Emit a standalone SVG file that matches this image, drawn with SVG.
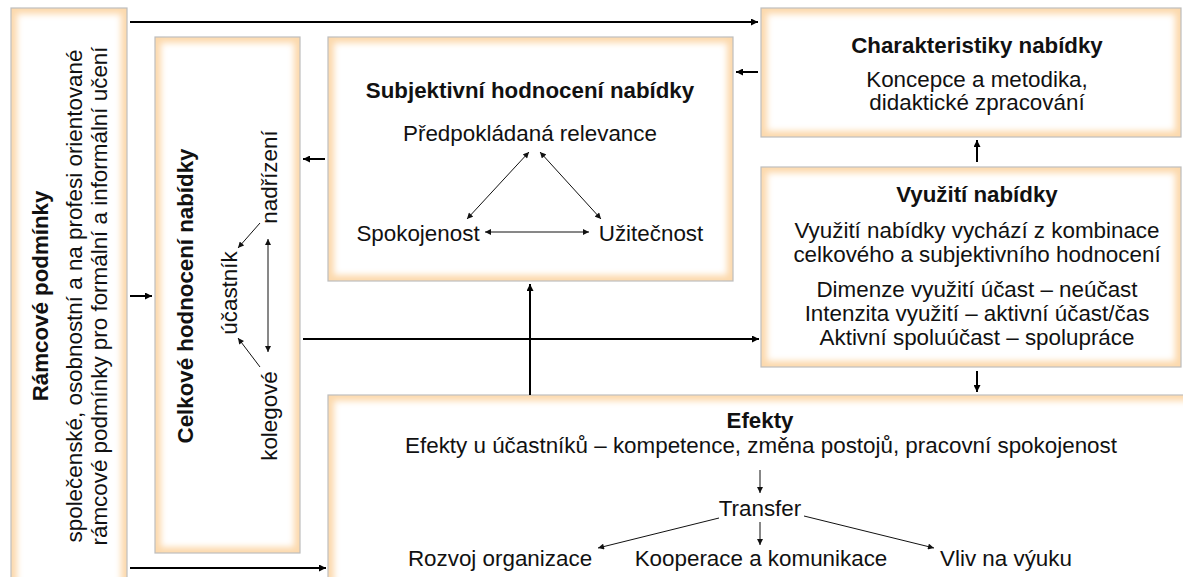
<svg xmlns="http://www.w3.org/2000/svg" width="1183" height="577" viewBox="0 0 1183 577">
<style>
.box{fill:#fcd9ad;stroke:#bdbdbd;stroke-width:1.2}
.inner{fill:#ffffff;filter:url(#soft)}
text{font-family:"Liberation Sans",Arial,sans-serif;fill:#111;font-size:22.4px}
.t{font-weight:bold;font-size:22.3px}
.c{text-anchor:middle}
.big{fill:none;stroke:#000;stroke-width:2;marker-end:url(#ah)}
.thin{fill:none;stroke:#111;stroke-width:1;marker-end:url(#as)}
.dbl{fill:none;stroke:#111;stroke-width:1;marker-end:url(#as);marker-start:url(#as)}
</style>
<defs>
<filter id="soft" x="-20%" y="-20%" width="140%" height="140%"><feGaussianBlur stdDeviation="3"/></filter>
<marker id="ah" viewBox="0 0 10 10" refX="10" refY="5" markerWidth="9" markerHeight="7" markerUnits="userSpaceOnUse" orient="auto-start-reverse"><path d="M0,0 L10,5 L0,10 z" fill="#000"/></marker>
<marker id="as" viewBox="0 0 10 10" refX="10" refY="5" markerWidth="7" markerHeight="6" markerUnits="userSpaceOnUse" orient="auto-start-reverse"><path d="M0,0 L10,5 L0,10 z" fill="#111"/></marker>
</defs>
<rect width="1183" height="577" fill="#fff"/>

<g id="ramcove">
<rect class="box" x="11" y="8" width="116" height="590"/>
<rect class="inner" x="17" y="14" width="104" height="578"/>
<text class="t c" transform="translate(48,296) rotate(-90)">Rámcové podmínky</text>
<text class="c" transform="translate(82,296) rotate(-90)">společenské, osobnostní a na profesi orientované</text>
<text class="c" transform="translate(107,296) rotate(-90)">rámcové podmínky pro formální a informální učení</text>
</g>

<g id="celkove">
<rect class="box" x="155" y="37" width="145" height="516"/>
<rect class="inner" x="161" y="43" width="133" height="504"/>
<text class="t c" transform="translate(193,296) rotate(-90)">Celkové hodnocení nabídky</text>
<text class="c" transform="translate(277,177) rotate(-90)">nadřízení</text>
<text class="c" transform="translate(237,293) rotate(-90)">účastník</text>
<text class="c" transform="translate(277,416) rotate(-90)">kolegové</text>
<path class="thin" d="M260,223 L238,248"/>
<path class="thin" d="M260,367 L238,338"/>
<path class="dbl" d="M268,239 V352"/>
</g>

<g id="subjektivni">
<rect class="box" x="328" y="37" width="405" height="244"/>
<rect class="inner" x="334" y="43" width="393" height="232"/>
<text class="t c" x="530" y="98">Subjektivní hodnocení nabídky</text>
<text class="c" x="530" y="141">Předpokládaná relevance</text>
<text class="c" x="418" y="241">Spokojenost</text>
<text class="c" x="651" y="241">Užitečnost</text>
<path class="dbl" d="M467,219 L529,152"/>
<path class="dbl" d="M540,152 L601,219"/>
<path class="dbl" d="M485,232 H589"/>
</g>

<g id="charakteristiky">
<rect class="box" x="761" y="8" width="420" height="129"/>
<rect class="inner" x="767" y="14" width="408" height="117"/>
<text class="t c" x="977" y="53">Charakteristiky nabídky</text>
<text class="c" x="977" y="87">Koncepce a metodika,</text>
<text class="c" x="977" y="110">didaktické zpracování</text>
</g>

<g id="vyuziti">
<rect class="box" x="761" y="167" width="420" height="200"/>
<rect class="inner" x="767" y="173" width="408" height="188"/>
<text class="t c" x="977" y="202">Využití nabídky</text>
<text class="c" x="977" y="238">Využití nabídky vychází z kombinace</text>
<text class="c" x="977" y="262">celkového a subjektivního hodnocení</text>
<text class="c" x="977" y="297">Dimenze využití účast – neúčast</text>
<text class="c" x="977" y="321">Intenzita využití – aktivní účast/čas</text>
<text class="c" x="977" y="345">Aktivní spoluúčast – spolupráce</text>
</g>

<g id="efekty">
<rect class="box" x="328" y="395" width="870" height="200"/>
<rect class="inner" x="334" y="401" width="858" height="188"/>
<text class="t c" x="760" y="428">Efekty</text>
<text class="c" x="761" y="453">Efekty u účastníků – kompetence, změna postojů, pracovní spokojenost</text>
<text class="c" x="760" y="516">Transfer</text>
<text class="c" x="500" y="566">Rozvoj organizace</text>
<text class="c" x="761" y="566">Kooperace a komunikace</text>
<text class="c" x="1006" y="566">Vliv na výuku</text>
<path class="thin" d="M760,470 V493"/>
<path class="thin" d="M719,518 L598,548"/>
<path class="thin" d="M760,522 V545"/>
<path class="thin" d="M804,516 L934,548"/>
</g>

<g id="connectors">
<path class="big" d="M130,22 H758"/>
<path class="big" d="M758,72 H736"/>
<path class="big" d="M325,159 H303"/>
<path class="big" d="M130,296 H152"/>
<path class="big" d="M303,339 H759"/>
<path class="big" d="M977,162 V140"/>
<path class="big" d="M977,371 V392"/>
<path class="big" d="M530,395 V284"/>
<path class="big" d="M130,568 H326"/>
</g>
</svg>
